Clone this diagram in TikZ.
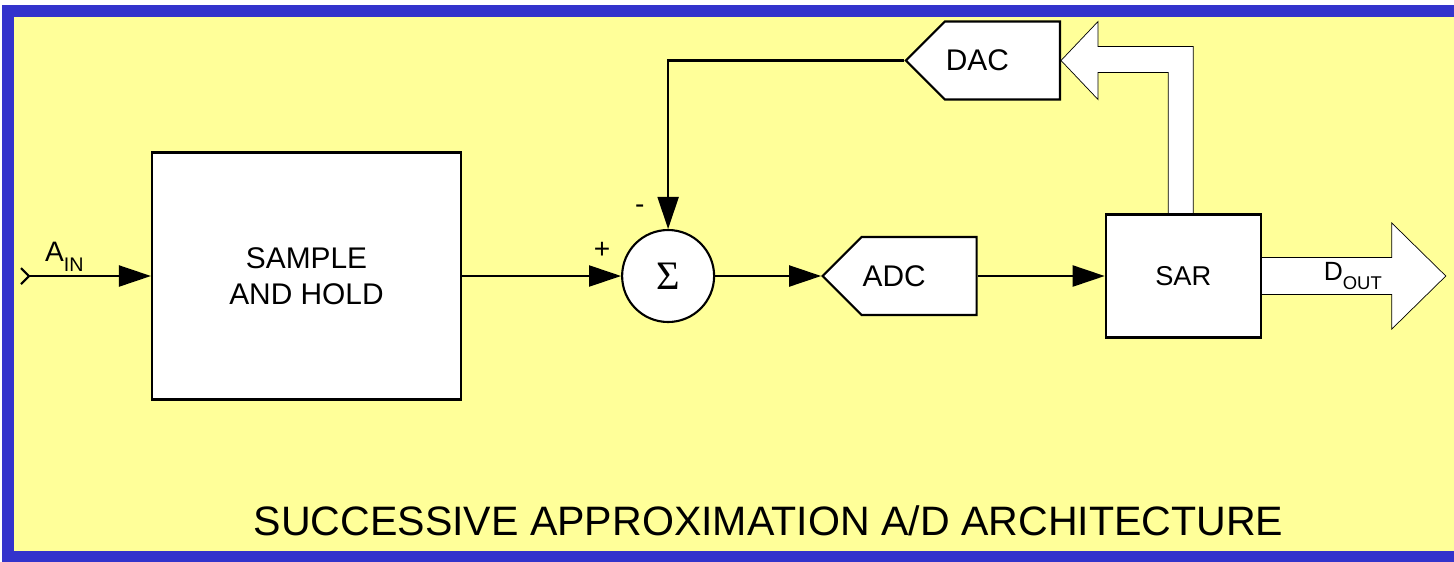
\documentclass[tikz,border=0pt]{standalone}
\usepackage{graphicx}
\usepackage{fontspec}
\setmainfont{Liberation Sans}
\newfontfamily\sigmafont{Liberation Serif}
\usetikzlibrary{arrows.meta,positioning,calc,shapes.symbols,backgrounds}
\definecolor{panelyellow}{RGB}{255,255,153}
\definecolor{panelblue}{RGB}{51,51,204}
\newcommand{\lowsub}[1]{\raisebox{-0.35em}{\scalebox{0.7}{#1}}}

\begin{document}
\begin{tikzpicture}[line width=1.2pt, >={Triangle[length=0.64cm,width=0.42cm]},
    block/.style={draw, fill=white, align=center, font=\fontsize{17}{20.5}\selectfont},
    conv/.style={draw, fill=white, signal, signal to=west, signal pointer angle=90, minimum width=3.08cm, minimum height=1.56cm,
                 font=\fontsize{17}{20}\selectfont, execute at begin node={\hspace*{-1cm}}},
    bus/.style={draw, fill=white},
    sign/.style={inner sep=0pt, font=\fontsize{16}{16}\selectfont},]
    \useasboundingbox (0,0) rectangle (29.08,-11.22);
    \node[block, minimum width=6.18cm, minimum height=4.94cm] (sh) at (6.13,-5.52) {SAMPLE\\AND HOLD};
    \coordinate (in) at (0.58,-5.52);
    \node[circle, draw, fill=white, minimum size=1.84cm, inner sep=0pt, right=3.18cm of sh] (sum) {\fontsize{23}{23}\selectfont\sigmafont Σ};
    \node[conv, right=2.12cm of sum] (adc) {ADC};
    \node[block, minimum width=3.1cm, minimum height=2.46cm, font=\fontsize{15.5}{18}\selectfont, right=2.54cm of adc] (sar) {SAR};
    \node[conv, anchor=east] (dac) at (21.22,-1.21) {DAC};
    \draw (in) ++(-0.16,0.16) -- (in) -- ++(-0.16,-0.16);
    \draw[->] (in) -- node[pos=0.29, above, inner sep=2pt, font=\fontsize{16}{16}\selectfont] {A\lowsub{IN}} (sh);
    \draw[->] (sh) -- node[pos=0.88, above=0.32cm, sign] {+} (sum);
    \draw[->] (sum.east) -- (adc.west);
    \draw[->] (adc.east) -- (sar.west);
    \draw[->] (dac.west) -| node[pos=0.94, left=0.45cm, sign] {-} (sum.north);
    \begin{scope}[on background layer]
      % frame: blue on three sides, yellow panel
      \fill[panelblue] (0.04,-0.10) rectangle (29.3,-0.34);
      \fill[panelblue] (0.04,-0.10) rectangle (0.28,-11.3);
      \fill[panelblue] (0.04,-11.02) rectangle (29.3,-11.3);
      \fill[panelyellow] (0.28,-0.34) rectangle (29.3,-11.02);
      \draw[bus] ($(sar.north)+(0.2,0)$) |- ($(dac.east)+(0.74,0.28)$) -- ++(0,0.5) -- (dac.east)
            -- ($(dac.east)+(0.74,-0.78)$) -- ++(0,0.54) -| ($(sar.north)+(-0.3,0)$);
      \draw[bus] ($(sar.east)+(0,0.37)$) -- ++(2.6,0) -- ++(0,0.69) -- ($(sar.east)+(3.68,0)$)
            -- ($(sar.east)+(2.6,-1.06)$) -- ++(0,0.69) -- ($(sar.east)+(0,-0.37)$);
    \end{scope}
    \node[font=\fontsize{15}{15}\selectfont] (dout) at ($(sar.east)+(1.82,0)$) {D\lowsub{OUT}};
    \node[font=\fontsize{23.4}{23.4}\selectfont] (title) at (15.37,-10.42) {SUCCESSIVE APPROXIMATION A/D ARCHITECTURE};
\end{tikzpicture}
\end{document}
